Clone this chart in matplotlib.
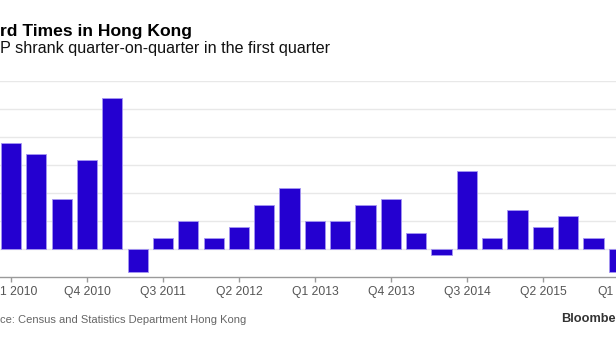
import matplotlib
matplotlib.use("Agg")
import matplotlib.pyplot as plt
import matplotlib.transforms as mtrans

# ---- data ----
quarters = ["Q1 2010", "Q2 2010", "Q3 2010", "Q4 2010",
            "Q1 2011", "Q2 2011", "Q3 2011", "Q4 2011",
            "Q1 2012", "Q2 2012", "Q3 2012", "Q4 2012",
            "Q1 2013", "Q2 2013", "Q3 2013", "Q4 2013",
            "Q1 2014", "Q2 2014", "Q3 2014", "Q4 2014",
            "Q1 2015", "Q2 2015", "Q3 2015", "Q4 2015",
            "Q1 2016"]
gdp_qoq = [1.9, 1.7, 0.9, 1.6,
           2.7, -0.4, 0.2, 0.5,
           0.2, 0.4, 0.8, 1.1,
           0.5, 0.5, 0.8, 0.9,
           0.3, -0.1, 1.4, 0.2,
           0.7, 0.4, 0.6, 0.2,
           -0.4]
tick_quarters = ["Q1 2010", "Q4 2010", "Q3 2011", "Q2 2012", "Q1 2013",
                 "Q4 2013", "Q3 2014", "Q2 2015", "Q1 2016"]
# visible portions of the tick labels (chart is cropped at both sides)
tick_labels = ["1 2010", "Q4 2010", "Q3 2011", "Q2 2012", "Q1 2013",
               "Q4 2013", "Q3 2014", "Q2 2015", "Q1"]
y_grid = [0, 0.5, 1.0, 1.5, 2.0, 2.5, 3.0]

title = "rd Times in Hong Kong"
subtitle = "P shrank quarter-on-quarter in the first quarter"
source = "ce: Census and Statistics Department Hong Kong"
brand = "Bloombe"

# ---- figure ----
W, H = 616, 346
fig = plt.figure(figsize=(W / 100, H / 100), dpi=100)
fig.patch.set_facecolor("white")
plt.rcParams["font.family"] = ["Liberation Sans", "DejaVu Sans"]

pitch = 25.33          # px per bar slot
first_center = 11.0    # px
ax_left_px = 0.0
ax_right_px = 650.0
ax_bottom_px = 277.3
ax_top_px = 81.3
ax = fig.add_axes([ax_left_px / W, (H - ax_bottom_px) / H,
                   (ax_right_px - ax_left_px) / W, (ax_bottom_px - ax_top_px) / H])
x0 = -(first_center - ax_left_px) / pitch
ax.set_xlim(x0, x0 + (ax_right_px - ax_left_px) / pitch)
ax.set_ylim(-0.5, 3.0)

xs = list(range(len(quarters)))
ax.bar(xs, gdp_qoq, width=0.8, color="#2400d0", edgecolor="#a596f2",
       linewidth=0.6, zorder=3)

for v in y_grid:
    ax.axhline(v, color="#e8e8e8", linewidth=1.0, zorder=1)

for s in ["top", "right", "left"]:
    ax.spines[s].set_visible(False)
ax.spines["bottom"].set_color("#9a9a9a")
ax.spines["bottom"].set_linewidth(1.0)
ax.set_yticks([])
tick_pos = [quarters.index(t) for t in tick_quarters]
ax.set_xticks(tick_pos)
ax.set_xticklabels(tick_labels)
ax.tick_params(axis="x", length=3.5, width=1.0, color="#9a9a9a",
               labelsize=8.7, labelcolor="#555555", pad=2.5)

# first and last labels are cropped in the reference: align their visible parts
lbls = ax.get_xticklabels()
lbls[0].set_ha("left")
lbls[0].set_transform(lbls[0].get_transform()
                      + mtrans.ScaledTranslation(-10.5 / 100, 0, fig.dpi_scale_trans))
lbls[-1].set_ha("left")
lbls[-1].set_transform(lbls[-1].get_transform()
                       + mtrans.ScaledTranslation(-21.5 / 100, 0, fig.dpi_scale_trans))

# ---- texts ----
fig.text(0.5 / W, (H - 35.7) / H, title, ha="left", va="baseline",
         fontsize=12.6, fontweight="bold", color="#000000")
fig.text(0.5 / W, (H - 53.5) / H, subtitle, ha="left", va="baseline",
         fontsize=11.65, color="#111111")
fig.text(0.5 / W, (H - 320) / H, source, ha="left", va="center",
         fontsize=8.0, color="#666666")
fig.text(561.5 / W, (H - 319.5) / H, brand, ha="left", va="center",
         fontsize=9.2, fontweight="bold", color="#333333")

fig.savefig("out.png", dpi=100, facecolor="white")
